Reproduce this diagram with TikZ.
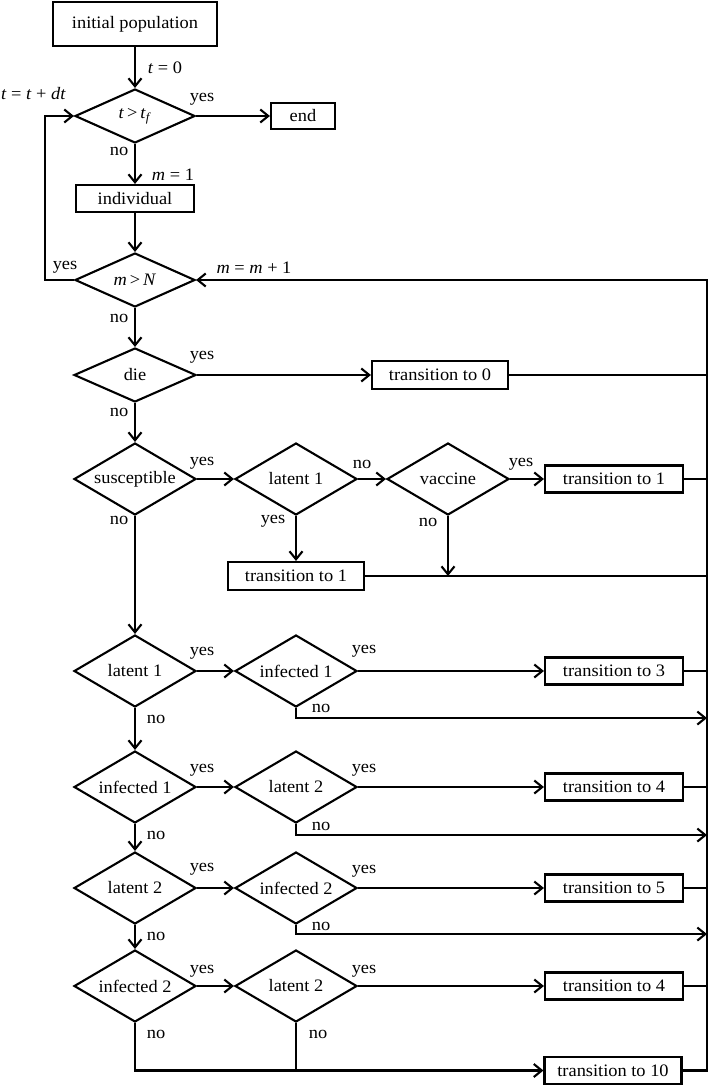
\documentclass[tikz,border=0pt]{standalone}
\usepackage{fontspec}
\setmainfont{Liberation Serif}[FakeStretch=1.05]
\usetikzlibrary{shapes.geometric,arrows.meta,calc}
\begin{document}
\begin{tikzpicture}[x=1pt,y=-1pt, line width=2.1pt,
  every node/.style={font=\fontsize{17.5}{21}\selectfont},
  box/.style={draw, rectangle, inner sep=0pt, minimum height=27pt},
  dec/.style={draw, diamond, aspect=2, inner sep=0pt, minimum width=122pt, minimum height=72pt},
  arr/.style={-{Straight Barb[length=8pt,width=13pt]}},
  lbl/.style={inner sep=0pt}]
\useasboundingbox (0,0) rectangle (711,1087);
% nodes
\node[box, minimum width=164pt, minimum height=44pt] (init) at (135,24) {initial population};
\node[dec, minimum width=120pt, minimum height=54pt] (dtf) at (135,116) {\textit{t}\,>\,\textit{t}\textsubscript{\textit{f}}};
\node[box, minimum width=64pt, minimum height=26pt] (end) at (303,116) {end};
\node[box, minimum width=118pt] (ind) at (135,198.5) {individual};
\node[dec, minimum width=120pt, minimum height=54pt] (dmN) at (135,280) {\textit{m}\,>\,\textit{N}};
\node[dec, minimum height=54pt] (ddie) at (135,375) {die};
\node[box, minimum width=136pt, minimum height=28pt] (t0) at (440,375) {transition to 0};
\node[dec] (dsus) at (135,479) {susceptible};
\node[dec] (dlatA) at (296,479) {latent 1};
\node[dec] (dvac) at (448,479) {vaccine};
\node[box, minimum width=138pt] (tA) at (614,479) {transition to 1};
\node[box, minimum width=136pt, minimum height=28pt] (tB) at (296,576) {transition to 1};
\node[dec] (dlat1) at (135,671) {latent 1};
\node[dec] (dinf1) at (296,671) {infected 1};
\node[box, minimum width=138pt] (t3) at (614,671) {transition to 3};
\node[dec] (dinf1b) at (135,787) {infected 1};
\node[dec] (dlat2) at (296,787) {latent 2};
\node[box, minimum width=138pt] (t4) at (614,787) {transition to 4};
\node[dec] (dlat2b) at (135,888) {latent 2};
\node[dec] (dinf2) at (296,888) {infected 2};
\node[box, minimum width=138pt] (t5) at (614,888) {transition to 5};
\node[dec] (dinf2b) at (135,986) {infected 2};
\node[dec] (dlat2c) at (296,986) {latent 2};
\node[box, minimum width=138pt] (t4b) at (614,986) {transition to 4};
\node[box, minimum width=137pt] (t10) at (613,1070.5) {transition to 10};
\coordinate (busT) at (707,280);
% labels
\node[lbl] (l1) at (165,68) {\textit{t} = 0};
\node[lbl, anchor=west] (l2) at (0,94) {\textit{t} = \textit{t} + \textit{dt}};
\node[lbl] (l3) at (202,99) {yes};
\node[lbl] (l4) at (119,151) {no};
\node[lbl] (l5) at (173,175) {\textit{m} = 1};
\node[lbl] (l6) at (65,267) {yes};
\node[lbl] (l7) at (254,268) {\textit{m} = \textit{m} + 1};
\node[lbl] (l8) at (119,318) {no};
\node[lbl] (l9) at (202,357) {yes};
\node[lbl] (l10) at (119,412) {no};
\node[lbl] (l11) at (202,463) {yes};
\node[lbl] (l12) at (119,520) {no};
\node[lbl] (l13) at (362,464) {no};
\node[lbl] (l14) at (521,464) {yes};
\node[lbl] (l15) at (273,521) {yes};
\node[lbl] (l16) at (428,522) {no};
\node[lbl] (l17) at (202,653) {yes};
\node[lbl] (l18) at (364,651) {yes};
\node[lbl] (l19) at (321,708) {no};
\node[lbl] (l20) at (156,719) {no};
\node[lbl] (l21) at (202,770) {yes};
\node[lbl] (l22) at (364,770) {yes};
\node[lbl] (l23) at (321,826) {no};
\node[lbl] (l24) at (156,835) {no};
\node[lbl] (l25) at (202,869) {yes};
\node[lbl] (l26) at (364,871) {yes};
\node[lbl] (l27) at (321,926) {no};
\node[lbl] (l28) at (156,936) {no};
\node[lbl] (l29) at (202,971) {yes};
\node[lbl] (l30) at (364,971) {yes};
\node[lbl] (l31) at (156,1034) {no};
\node[lbl] (l32) at (318,1034) {no};
% connectors
\draw[arr] (init.south) -- (dtf.north);
\draw[arr] (dtf.east) -- (end.west);
\draw[arr] (dtf.south) -- (ind.north);
\draw[arr] (ind.south) -- (dmN.north);
\draw[arr] (dmN.west) -- ++(-29,0) |- (dtf.west);
\draw[arr] (dmN.south) -- (ddie.north);
\draw[arr] (ddie.east) -- (t0.west);
\draw[arr] (ddie.south) -- (dsus.north);
\draw[arr] (dsus.east) -- (dlatA.west);
\draw[arr] (dlatA.east) -- (dvac.west);
\draw[arr] (dvac.east) -- (tA.west);
\draw[arr] (dlatA.south) -- (tB.north);
\draw[arr] (dvac.south) -- (dvac.south |- tB.east);
\draw[arr] (dsus.south) -- (dlat1.north);
\draw (t0.east) -- (t0.east -| busT);
\draw (tA.east) -- (tA.east -| busT);
\draw (tB.east) -- (tB.east -| busT);
% row 3
\draw[arr] (dlat1.east) -- (dinf1.west);
\draw[arr] (dinf1.east) -- (t3.west);
\draw (t3.east) -- (t3.east -| busT);
\draw[arr] (dinf1.south) -- ++(0,10) coordinate (n3) -- (n3 -| busT);
\draw[arr] (dlat1.south) -- (dinf1b.north);
% row 4
\draw[arr] (dinf1b.east) -- (dlat2.west);
\draw[arr] (dlat2.east) -- (t4.west);
\draw (t4.east) -- (t4.east -| busT);
\draw[arr] (dlat2.south) -- ++(0,11) coordinate (n4) -- (n4 -| busT);
\draw[arr] (dinf1b.south) -- (dlat2b.north);
% row 5
\draw[arr] (dlat2b.east) -- (dinf2.west);
\draw[arr] (dinf2.east) -- (t5.west);
\draw (t5.east) -- (t5.east -| busT);
\draw[arr] (dinf2.south) -- ++(0,9) coordinate (n5) -- (n5 -| busT);
\draw[arr] (dlat2b.south) -- (dinf2b.north);
% row 6
\draw[arr] (dinf2b.east) -- (dlat2c.west);
\draw[arr] (dlat2c.east) -- (t4b.west);
\draw (t4b.east) -- (t4b.east -| busT);
\draw[arr] (dinf2b.south) |- (t10.west);
\draw (dlat2c.south) -- (dlat2c.south |- t10.west);
\draw[arr] (t10.east) -| (busT) -- (dmN.east);
\end{tikzpicture}
\end{document}
